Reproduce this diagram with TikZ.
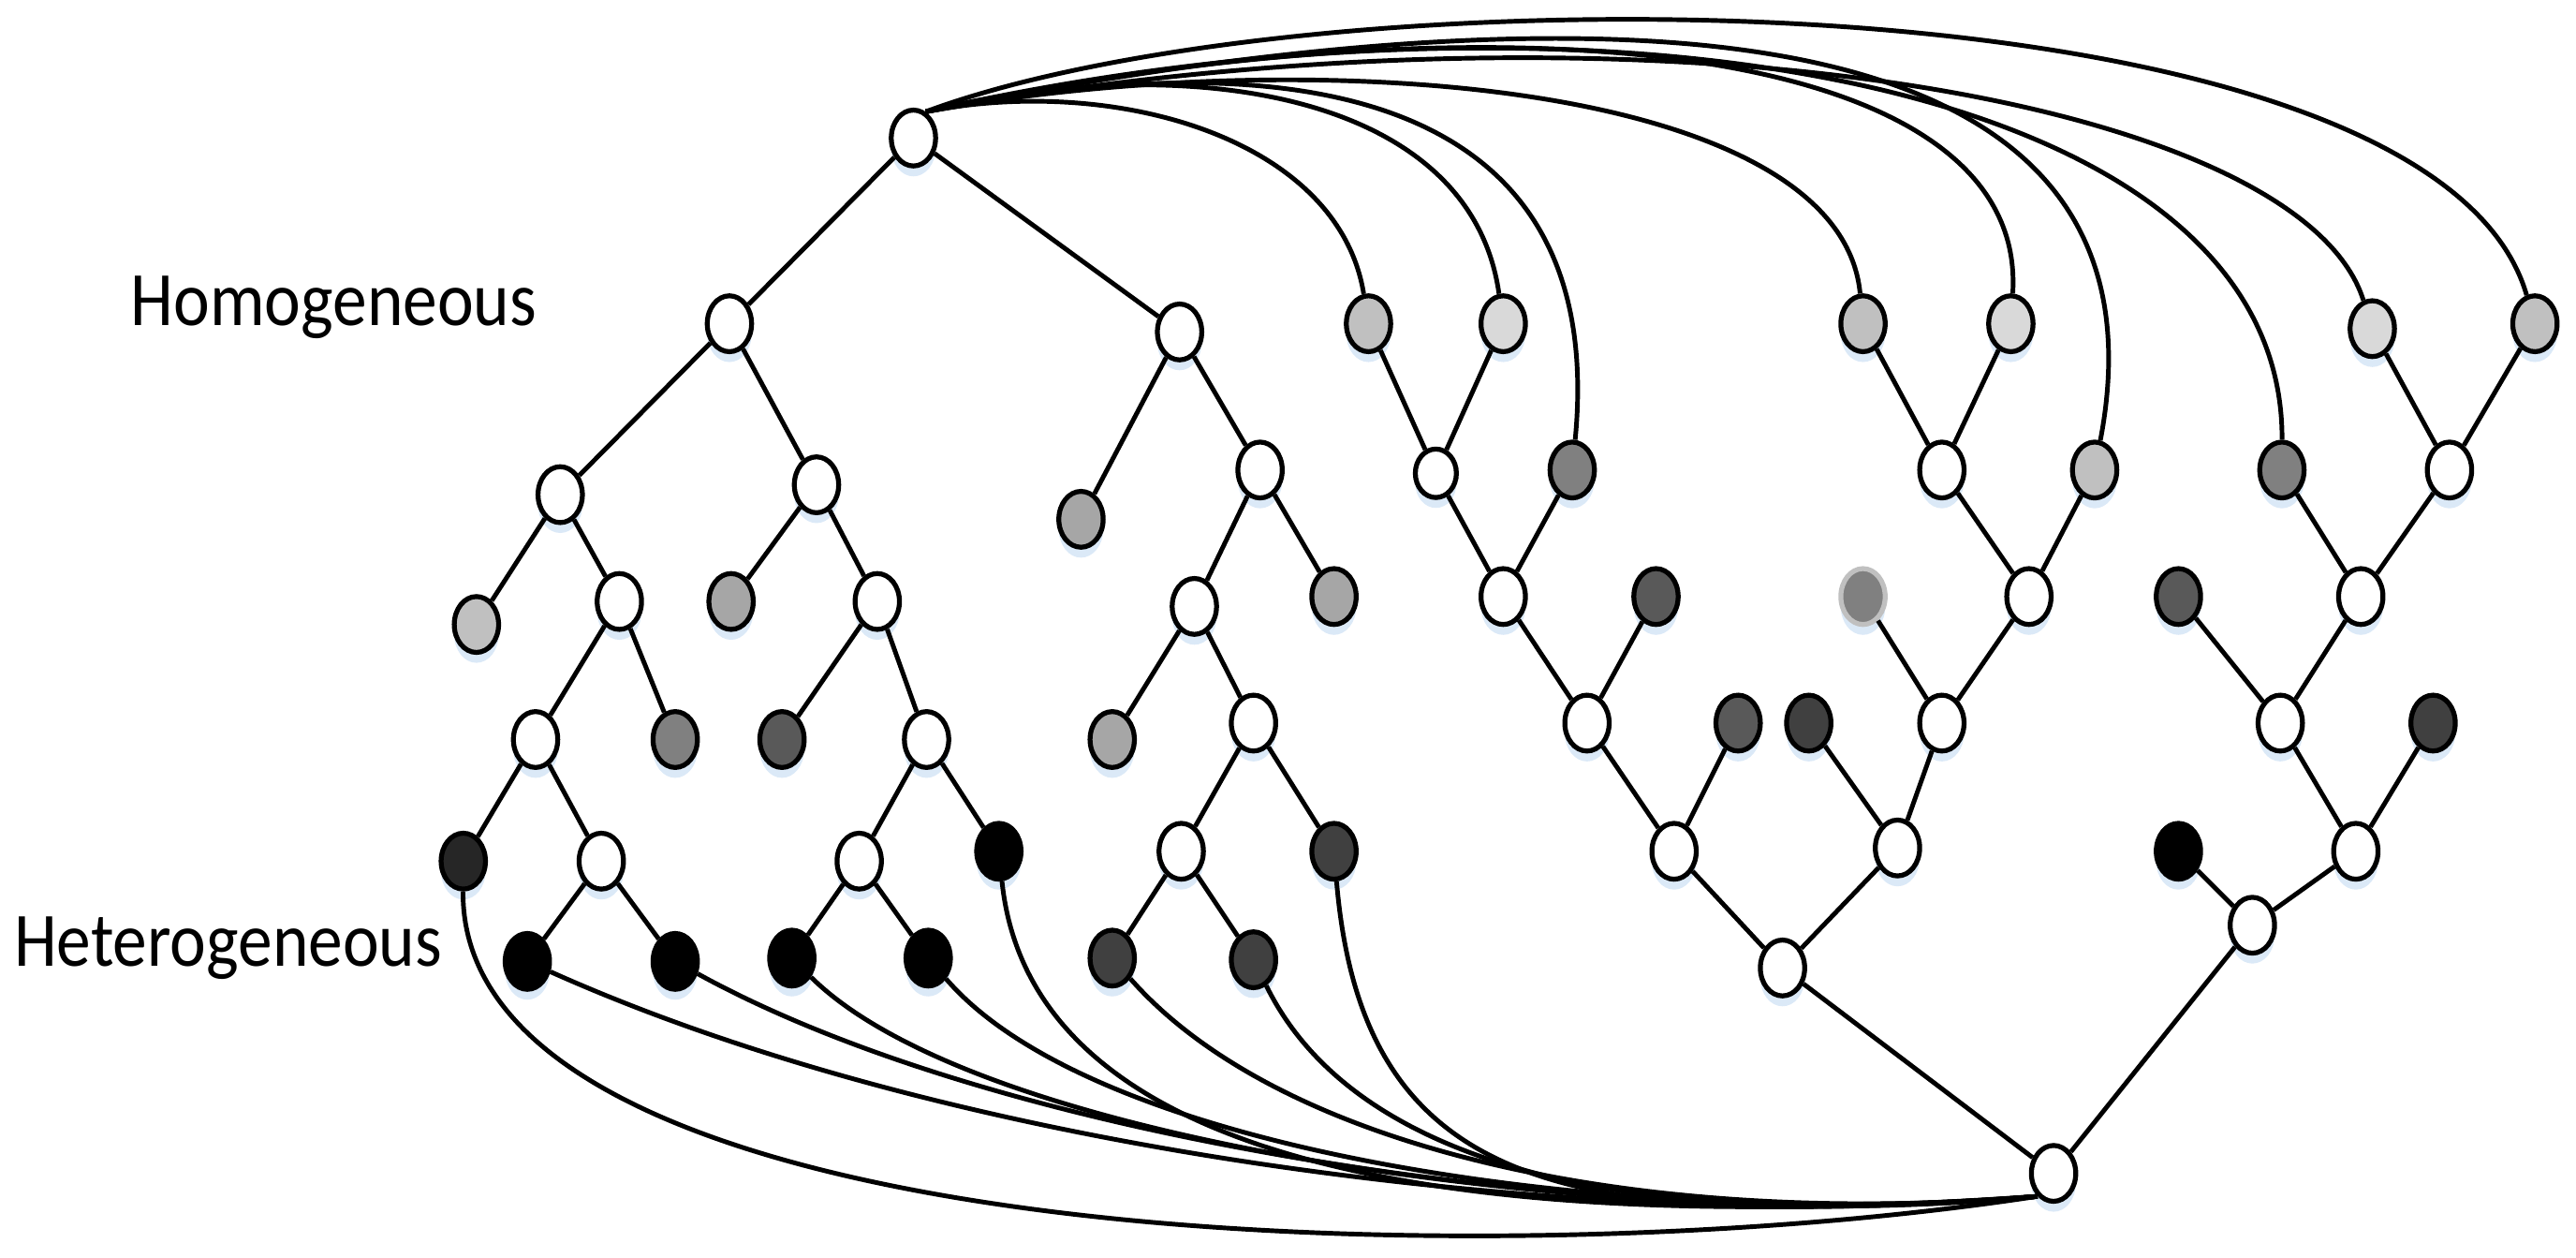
\documentclass[tikz,border=0pt]{standalone}
\usepackage{fontspec}
\setmainfont{Carlito}
\usetikzlibrary{shapes.geometric,shadows}
\definecolor{ga}{HTML}{D9D9D9}
\definecolor{gb}{HTML}{C0C0C0}
\definecolor{gc}{HTML}{A6A6A6}
\definecolor{gd}{HTML}{808080}
\definecolor{ge}{HTML}{595959}
\definecolor{gf}{HTML}{404040}
\definecolor{gg}{HTML}{262626}
\definecolor{glow}{RGB}{210,227,245}
\begin{document}
\begin{tikzpicture}[x=0.1mm,y=-0.1mm,
  vx/.style={draw,ellipse,line width=0.85pt,fill=#1,inner sep=0pt,
    minimum width=2.7mm,minimum height=3.4mm,
    drop shadow={shadow xshift=0pt,shadow yshift=-1.8pt,fill=glow,opacity=0.8}},
  vx/.default=white,
  ln/.style={draw,line width=0.8pt},
  lbl/.style={anchor=base west,inner sep=0pt,yscale=1.12,
    font=\fontsize{11.9}{14}\selectfont}]
\useasboundingbox (0,0) rectangle (1568,765);

% labels
\node[lbl] (hom) at (79,198) {Homogeneous};
\node[lbl] (het) at (8,588) {Heterogeneous};

% left tree
\node[vx] (r) at (556,84) {};
\node[vx] (a) at (444,197) {};
\node[vx] (b) at (718,202) {};
\node[vx] (a1) at (341,301) {};
\node[vx] (a2) at (497,295) {};
\node[vx=gb] (lc0a) at (290,380) {};
\node[vx] (a11) at (377,366) {};
\node[vx=gc] (la6a) at (445,366) {};
\node[vx] (a21) at (534,366) {};
\node[vx] (a111) at (326,450) {};
\node[vx=gd] (l80a) at (411,450) {};
\node[vx=ge] (l59a) at (476,450) {};
\node[vx] (a211) at (564,450) {};
\node[vx=gg] (l26) at (282,524) {};
\node[vx] (a1111) at (366,524) {};
\node[vx] (a2111) at (523,524) {};
\node[vx=black] (lbk5) at (608,518) {};
\node[vx=black] (lbk1) at (321,585) {};
\node[vx=black] (lbk2) at (411,585) {};
\node[vx=black] (lbk3) at (482,583) {};
\node[vx=black] (lbk4) at (565,583) {};

\node[vx=gc] (la6b) at (658,316) {};
\node[vx] (b1) at (767,286) {};
\node[vx] (b11) at (727,369) {};
\node[vx=gc] (la6c) at (812,363) {};
\node[vx=gc] (la6d) at (677,450) {};
\node[vx] (b111) at (763,440) {};
\node[vx] (b1111) at (719,518) {};
\node[vx=gf] (l40a) at (812,518) {};
\node[vx=gf] (l40b) at (677,583) {};
\node[vx=gf] (l40c) at (763,584) {};

% middle tree
\node[vx=gb] (t1) at (833,197) {};
\node[vx=ga] (t2) at (915,197) {};
\node[vx,minimum width=2.5mm,minimum height=2.95mm] (c1) at (874,288) {};
\node[vx=gd] (t3) at (957,286) {};
\node[vx] (c2) at (915,363) {};
\node[vx=ge] (l59b) at (1008,363) {};
\node[vx] (c3) at (966,440) {};
\node[vx=ge] (l59c) at (1058,440) {};
\node[vx] (c4) at (1019,518) {};
\node[vx] (c5) at (1085,589) {};

\node[vx=gb] (t4) at (1134,197) {};
\node[vx=ga] (t5) at (1224,197) {};
\node[vx] (d1) at (1182,286) {};
\node[vx=gb] (t6) at (1275,286) {};
\node[vx=gd,draw=gb] (hl) at (1134,363) {};
\node[vx] (d2) at (1235,363) {};
\node[vx=gf] (l40d) at (1101,440) {};
\node[vx] (d3) at (1182,440) {};
\node[vx] (d4) at (1155,516) {};

% right tree
\node[vx=ga] (t8) at (1444,200) {};
\node[vx=gb] (t9) at (1543,197) {};
\node[vx] (e1) at (1491,286) {};
\node[vx=gd] (t7) at (1389,286) {};
\node[vx] (e2) at (1437,363) {};
\node[vx=ge] (l59d) at (1326,363) {};
\node[vx] (e3) at (1388,440) {};
\node[vx=gf] (l40e) at (1481,440) {};
\node[vx] (e4) at (1434,518) {};
\node[vx=black] (lbk6) at (1326,518) {};
\node[vx] (e5) at (1371,563) {};
\node[vx] (z) at (1250,714) {};

% tree edges
\path[ln] (r) -- (a);
\path[ln] (r) -- (b);
\path[ln] (a) -- (a1);
\path[ln] (a) -- (a2);
\path[ln] (a1) -- (lc0a);
\path[ln] (a1) -- (a11);
\path[ln] (a2) -- (la6a);
\path[ln] (a2) -- (a21);
\path[ln] (a11) -- (a111);
\path[ln] (a11) -- (l80a);
\path[ln] (a21) -- (l59a);
\path[ln] (a21) -- (a211);
\path[ln] (a111) -- (l26);
\path[ln] (a111) -- (a1111);
\path[ln] (a1111) -- (lbk1);
\path[ln] (a1111) -- (lbk2);
\path[ln] (a211) -- (a2111);
\path[ln] (a211) -- (lbk5);
\path[ln] (a2111) -- (lbk3);
\path[ln] (a2111) -- (lbk4);
\path[ln] (b) -- (la6b);
\path[ln] (b) -- (b1);
\path[ln] (b1) -- (b11);
\path[ln] (b1) -- (la6c);
\path[ln] (b11) -- (la6d);
\path[ln] (b11) -- (b111);
\path[ln] (b111) -- (b1111);
\path[ln] (b111) -- (l40a);
\path[ln] (b1111) -- (l40b);
\path[ln] (b1111) -- (l40c);

\path[ln] (t1) -- (c1);
\path[ln] (t2) -- (c1);
\path[ln] (c1) -- (c2);
\path[ln] (t3) -- (c2);
\path[ln] (c2) -- (c3);
\path[ln] (l59b) -- (c3);
\path[ln] (c3) -- (c4);
\path[ln] (l59c) -- (c4);
\path[ln] (c4) -- (c5);
\path[ln] (d4) -- (c5);
\path[ln] (l40d) -- (d4);
\path[ln] (d3) -- (d4);
\path[ln] (hl) -- (d3);
\path[ln] (d2) -- (d3);
\path[ln] (d1) -- (d2);
\path[ln] (t6) -- (d2);
\path[ln] (t4) -- (d1);
\path[ln] (t5) -- (d1);

\path[ln] (t8) -- (e1);
\path[ln] (t9) -- (e1);
\path[ln] (e1) -- (e2);
\path[ln] (t7) -- (e2);
\path[ln] (e2) -- (e3);
\path[ln] (l59d) -- (e3);
\path[ln] (e3) -- (e4);
\path[ln] (l40e) -- (e4);
\path[ln] (e4) -- (e5);
\path[ln] (lbk6) -- (e5);
\path[ln] (e5) -- (z);
\path[ln] (c5) -- (z);

% top links
\path[ln] (r.65) .. controls (680,45) and (815,85) .. (t1);
\path[ln] (r.65) .. controls (720,30) and (895,55) .. (t2);
\path[ln] (r.65) .. controls (780,25) and (980,50) .. (t3);
\path[ln] (r.65) .. controls (800,25) and (1120,50) .. (t4);
\path[ln] (r.65) .. controls (900,-5) and (1235,20) .. (t5);
\path[ln] (r.65) .. controls (980,-15) and (1330,0) .. (t6);
\path[ln] (r.65) .. controls (950,-20) and (1390,40) .. (t7);
\path[ln] (r.65) .. controls (1000,-10) and (1400,60) .. (t8);
\path[ln] (r.65) .. controls (800,-20) and (1480,-20) .. (t9);

% bottom links
\path[ln] (l26) .. controls (280,760) and (900,780) .. (z.235);
\path[ln] (lbk1) .. controls (600,710) and (1000,750) .. (z.235);
\path[ln] (lbk2) .. controls (620,700) and (1000,750) .. (z.235);
\path[ln] (lbk3) .. controls (600,700) and (1000,750) .. (z.235);
\path[ln] (lbk4) .. controls (670,705) and (1000,748) .. (z.235);
\path[ln] (lbk5) .. controls (630,730) and (950,748) .. (z.235);
\path[ln] (l40b) .. controls (780,700) and (1000,748) .. (z.235);
\path[ln] (l40c) .. controls (830,720) and (1020,748) .. (z.235);
\path[ln] (l40a) .. controls (830,730) and (960,748) .. (z.235);
\end{tikzpicture}
\end{document}
